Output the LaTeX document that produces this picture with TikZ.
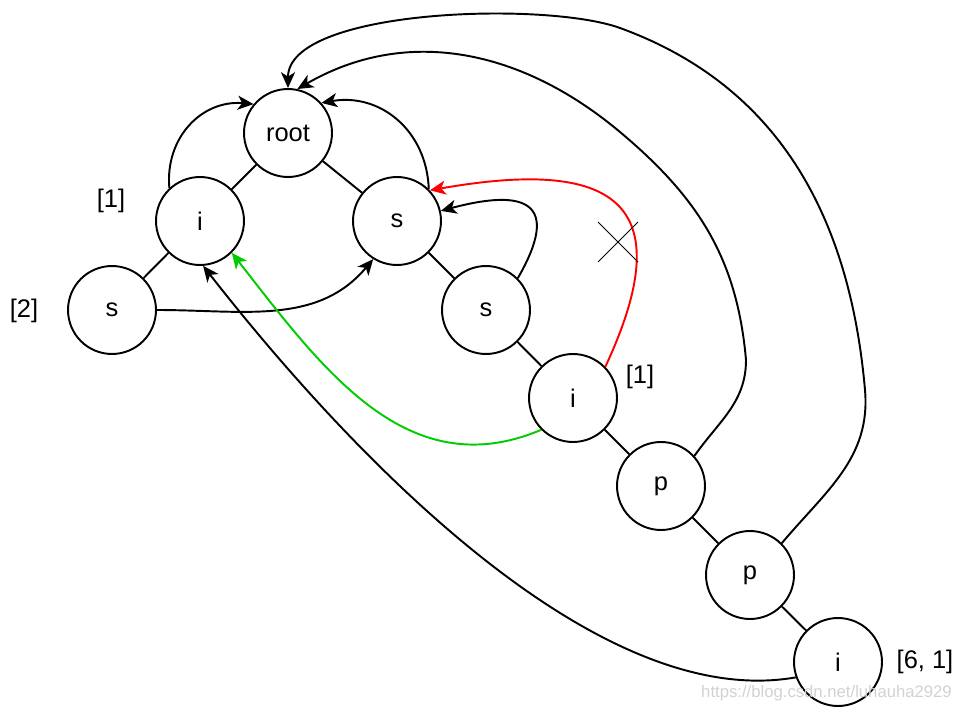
\documentclass[tikz,border=0pt]{standalone}
\usepackage{fontspec}
\setmainfont{Liberation Sans}
\usepackage{xcolor}
\usetikzlibrary{arrows.meta}
\definecolor{okgreen}{RGB}{0,204,0}
\definecolor{badred}{RGB}{255,0,0}
\tikzset{
  trienode/.style={circle,draw,line width=1.1pt,minimum size=1.76cm,inner sep=0pt,
    font=\fontsize{14.5}{17}\selectfont},
  tag/.style={font=\fontsize{14.5}{17}\selectfont},
  link/.style={line width=1.1pt},
  fail/.style={line width=1.1pt,-{Stealth[length=9pt,width=8pt,inset=2.5pt]}},
}
\begin{document}
\begin{tikzpicture}[x=0.02cm,y=-0.02cm]
\useasboundingbox (0,0) rectangle (968,713);
% trie
\node[trienode] (root) at (288,133) {root};
\node[trienode] (i1) at (200,221) {i};
\node[trienode] (s1) at (397,221) {s};
\node[trienode] (s0) at (112,310) {s};
\node[trienode] (s2) at (486,310) {s};
\node[trienode] (i2) at (573,398) {i};
\node[trienode] (p1) at (661,486) {p};
\node[trienode] (p2) at (750,575) {p};
\node[trienode] (i3) at (838,662) {i};
\draw[link] (root)--(i1) (root)--(s1) (i1)--(s0) (s1)--(s2)
  (s2)--(i2) (i2)--(p1) (p1)--(p2) (p2)--(i3);
% outputs
\node[tag] (o1) at (111,201) {[1]};
\node[tag] (o2) at (24,311) {[2]};
\node[tag] (o3) at (640,377) {[1]};
\node[tag] (o4) at (925,662) {[6, 1]};
% fail links
\draw[fail] (i1.133) to[out=95,in=175,looseness=1.1] (root.140);
\draw[fail] (s1.45) to[out=92,in=10,looseness=1.1] (root.42);
\draw[fail] (s2.45) to[out=60,in=15,looseness=2.2] (s1.13);
\draw[fail] (s0.0) to[out=0,in=-130] (s1.-122);
\draw[fail] (p1.42) to[out=55,in=-90] (746,360) to[out=95,in=-40] (620,132)
  to[out=140,in=30] (root.78);
\draw[fail] (p2.45) to[out=50,in=-85] (865,390) to[out=95,in=-20] (620,28)
  to[out=160,in=90,looseness=0.6] (root.90);
\draw[fail] (i3.200) to[out=190,in=-52,looseness=0.75] (i1.-86);
\draw[fail,okgreen] (i2.225) to[out=203,in=-52,looseness=1.05] (i1.-45);
\draw[fail,badred] (i2.44) to[out=65,in=10,looseness=1.9] (s1.43);
% cross
\draw[line width=0.6pt] (598,222)--(638,262) (598,262)--(638,222);
\node[anchor=east,text=gray!35,font=\fontsize{9.5}{11}\selectfont] (wm) at (958,693) {https://blog.csdn.net/luhauha2929};
\end{tikzpicture}
\end{document}
